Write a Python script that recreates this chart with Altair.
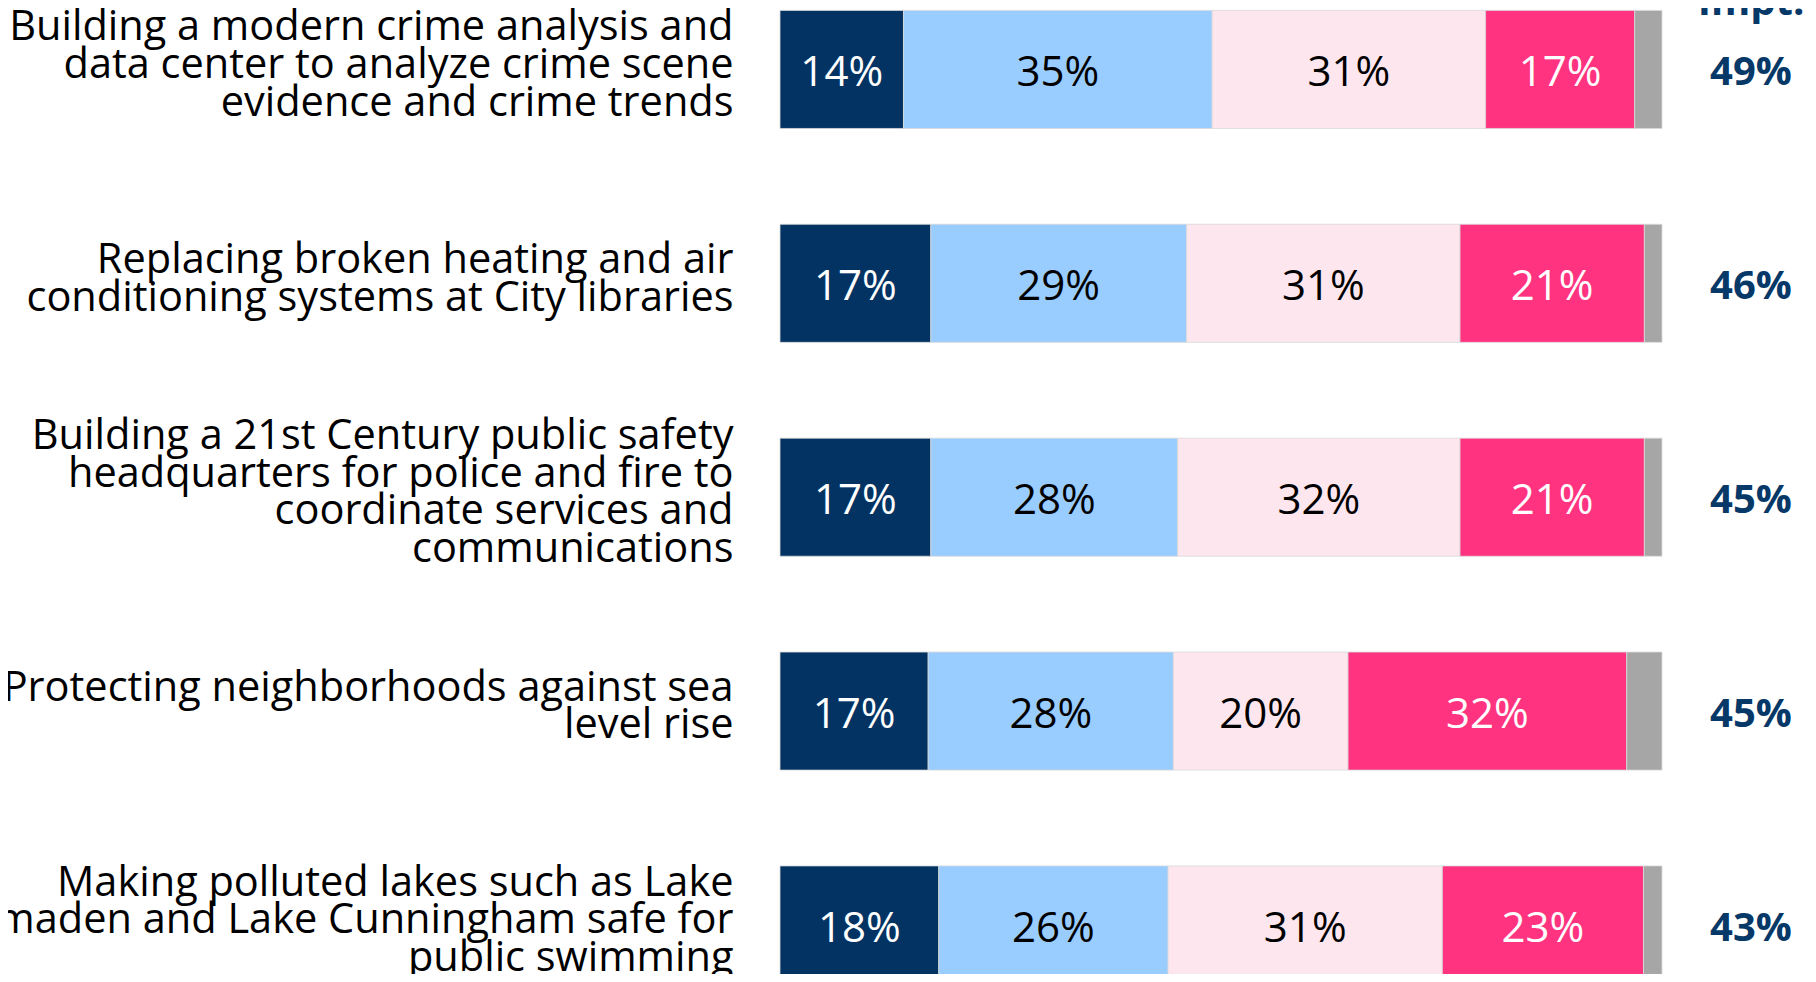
import altair as alt
import pandas as pd

categories = [
    "Building a modern crime analysis and\ndata center to analyze crime scene\nevidence and crime trends",
    "Replacing broken heating and air\nconditioning systems at City libraries",
    "Building a 21st Century public safety\nheadquarters for police and fire to\ncoordinate services and\ncommunications",
    "Protecting neighborhoods against sea\nlevel rise",
    "Making polluted lakes such as Lake\nAlmaden and Lake Cunningham safe for\npublic swimming",
]
segments = ["Extremely important", "Very important", "Somewhat important", "Not too important", "Don't know/NA"]
seg_colors = ["#033363", "#99CCFF", "#FDE6EE", "#FF3380", "#A6A6A6"]
seg_text_colors = ["#FFFFFF", "#000000", "#000000", "#FFFFFF", "#FFFFFF"]

# bar lengths as measured on the picture (percent)
extremely = [14.0, 17.1, 17.1, 16.8, 18.0]
very = [35.0, 29.0, 28.0, 27.8, 26.0]
somewhat = [31.0, 31.0, 32.0, 19.8, 31.1]
not_too = [16.9, 20.9, 20.9, 31.6, 22.8]
dk_na = [3.1, 2.0, 2.0, 4.0, 2.1]

# printed labels
label_extremely = [14, 17, 17, 17, 18]
label_very = [35, 29, 28, 28, 26]
label_somewhat = [31, 31, 32, 20, 31]
label_not_too = [17, 21, 21, 32, 23]

total_impt = [49, 46, 45, 45, 43]
header = ["Impt."]

series = [extremely, very, somewhat, not_too, dk_na]
labels = [label_extremely, label_very, label_somewhat, label_not_too, None]

rows = []
for i, cat in enumerate(categories):
    start = 0.0
    for j, seg in enumerate(segments):
        v = series[j][i]
        end = start + v
        lab = f"{labels[j][i]}%" if labels[j] is not None else ""
        rows.append({"category": cat, "segment": seg, "start": start, "end": end,
                     "mid": (start + end) / 2, "label": lab, "tc": seg_text_colors[j]})
        start = end
df = pd.DataFrame(rows)
df_tot = pd.DataFrame({"category": categories, "total": [f"{t}%" for t in total_impt]})
df_head = pd.DataFrame({"t": header})

FONT = "Open Sans"
LINE_H = 37.6
BASE_OFF = -3.5

# vertically centre the multi-line axis labels on their bars
offset_cond = {
    "condition": [
        {"test": f"length(split(datum.value, '\\n')) == {n}", "value": BASE_OFF - (n - 1) * LINE_H / 2}
        for n in (2, 3, 4)
    ],
    "value": BASE_OFF,
}

y_enc = alt.Y(
    "category:N",
    sort=categories,
    title=None,
    scale=alt.Scale(range=[2.4, 976], paddingInner=0.448, paddingOuter=0),
    axis=alt.Axis(
        domain=False, ticks=False, grid=False,
        labelExpr="split(datum.label, '\\n')",
        labelAlign="right", labelBaseline="middle",
        labelFont=FONT, labelFontSize=41.5, labelLineHeight=LINE_H,
        labelColor="#000000", labelPadding=47, labelLimit=0,
        labelOverlap=False, labelOffset=offset_cond,
    ),
)
x_scale = alt.Scale(domain=[0, 100], nice=False, zero=True)

bars = alt.Chart(df).mark_bar(stroke="#D9D9D9", strokeWidth=0.8).encode(
    x=alt.X("start:Q", scale=x_scale, axis=None),
    x2="end:Q",
    y=y_enc,
    color=alt.Color("segment:N", scale=alt.Scale(domain=segments, range=seg_colors), legend=None),
)

seg_text = alt.Chart(df).transform_filter("datum.label != ''").mark_text(
    font=FONT, fontSize=42, baseline="middle", align="center", dy=4
).encode(
    x=alt.X("mid:Q", scale=x_scale, axis=None),
    y=y_enc,
    text="label:N",
    color=alt.Color("tc:N", scale=None),
)

tot_text = alt.Chart(df_tot).mark_text(
    font=FONT, fontSize=40, fontWeight="bold", color="#063868", baseline="middle", align="center", dy=4
).encode(
    x=alt.value(971),
    y=y_enc,
    text="total:N",
)

head_text = alt.Chart(df_head).mark_text(
    font=FONT, fontSize=40, fontWeight="bold", color="#063868", baseline="alphabetic", align="center"
).encode(
    x=alt.value(971),
    y=alt.value(7),
    text="t:N",
)

chart = alt.layer(bars, seg_text, tot_text, head_text).properties(
    width=882, height=966,
    padding={"left": 772, "top": 0, "right": 146, "bottom": 0},
    autosize=alt.AutoSizeParams(type="none"),
    background="#FFFFFF",
).configure_view(stroke=None)

chart.save("out.html", embed_options={"renderer": "svg", "actions": False})
